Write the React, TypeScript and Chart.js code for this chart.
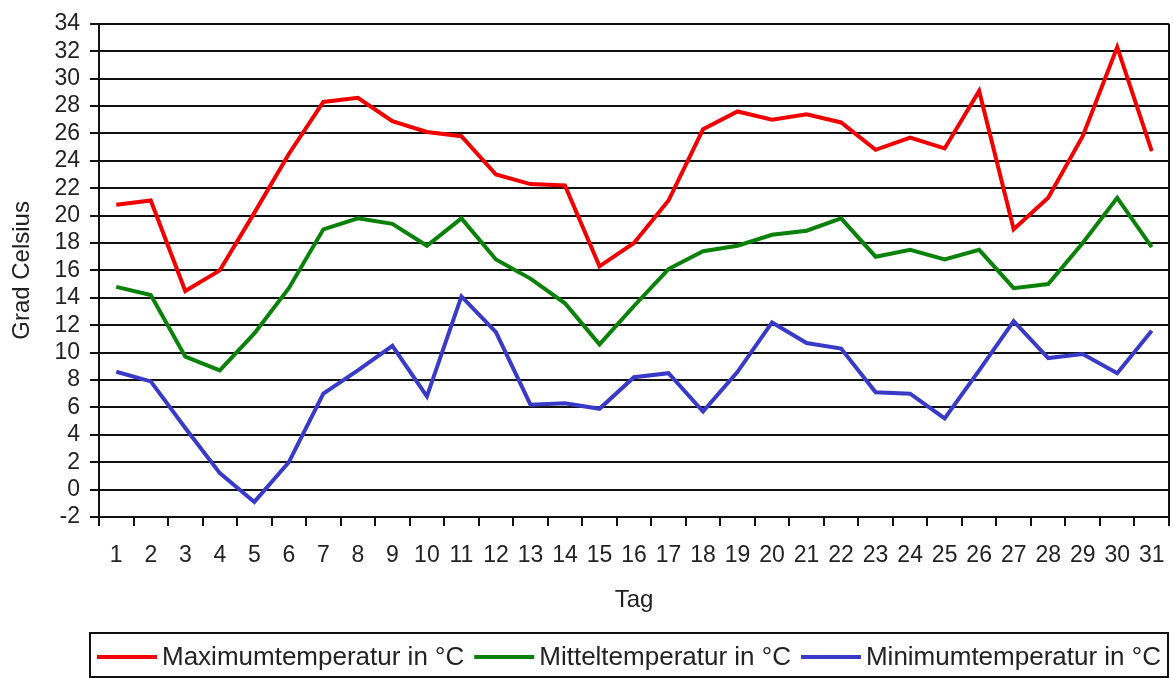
import React, { useEffect, useRef } from "react";
import { Chart, registerables } from "chart.js";

Chart.register(...registerables);

const days = Array.from({ length: 31 }, (_, i) => String(i + 1));
const maxTemp = [20.8, 21.1, 14.5, 16.0, 20.2, 24.5, 28.3, 28.6, 26.9, 26.1, 25.8, 23.0, 22.3, 22.2, 16.3, 18.0, 21.1, 26.3, 27.6, 27.0, 27.4, 26.8, 24.8, 25.7, 24.9, 29.1, 19.0, 21.3, 25.8, 32.3, 24.7];
const meanTemp = [14.8, 14.2, 9.7, 8.7, 11.4, 14.7, 19.0, 19.8, 19.4, 17.8, 19.8, 16.8, 15.4, 13.6, 10.6, 13.4, 16.1, 17.4, 17.8, 18.6, 18.9, 19.8, 17.0, 17.5, 16.8, 17.5, 14.7, 15.0, 18.0, 21.3, 17.7];
const minTemp = [8.6, 7.9, 4.5, 1.2, -0.9, 2.0, 7.0, 8.7, 10.5, 6.8, 14.1, 11.5, 6.2, 6.3, 5.9, 8.2, 8.5, 5.7, 8.6, 12.2, 10.7, 10.3, 7.1, 7.0, 5.2, 8.7, 12.3, 9.6, 9.9, 8.5, 11.6];
const seriesLabels = ["Maximumtemperatur in °C", "Mitteltemperatur in °C", "Minimumtemperatur in °C"];
const seriesColors = ["#f20000", "#0a820a", "#3a3ac8"];

const FONT = "'Liberation Sans', Arial, sans-serif";

const framePlugin = {
  id: "frameAndLegend",
  afterDraw(chart: any) {
    const { ctx, chartArea } = chart;
    ctx.save();
    ctx.strokeStyle = "#111";
    ctx.lineWidth = 2;
    ctx.beginPath();
    ctx.moveTo(chartArea.right, chartArea.top);
    ctx.lineTo(chartArea.right, chartArea.bottom);
    ctx.stroke();

    const boxLeft = 90;
    const boxTop = 633;
    const boxRight = 1168;
    const boxBottom = 677;
    ctx.strokeStyle = "#111";
    ctx.lineWidth = 2;
    ctx.strokeRect(boxLeft, boxTop, boxRight - boxLeft, boxBottom - boxTop);

    ctx.font = `26px ${FONT}`;
    ctx.textBaseline = "middle";
    ctx.textAlign = "left";
    const cy = 657;
    let x = boxLeft + 7;
    chart.data.datasets.forEach((ds: any) => {
      ctx.strokeStyle = ds.borderColor;
      ctx.lineWidth = 4;
      ctx.beginPath();
      ctx.moveTo(x, cy);
      ctx.lineTo(x + 60, cy);
      ctx.stroke();
      x += 65;
      ctx.fillStyle = "#222";
      ctx.fillText(ds.label, x, cy + 1);
      x += ctx.measureText(ds.label).width + 10;
    });
    ctx.restore();
  },
};

export default function App() {
  const ref = useRef<HTMLCanvasElement | null>(null);
  useEffect(() => {
    if (!ref.current) return;
    const chart = new Chart(ref.current, {
      type: "line",
      data: {
        labels: days,
        datasets: [maxTemp, meanTemp, minTemp].map((d, i) => ({
          label: seriesLabels[i],
          data: d,
          borderColor: seriesColors[i],
          backgroundColor: seriesColors[i],
          borderWidth: 4,
          pointRadius: 0,
          tension: 0,
          fill: false,
        })),
      },
      options: {
        animation: false,
        responsive: false,
        maintainAspectRatio: false,
        layout: { padding: { top: 23, right: 4, bottom: 53, left: 0 } },
        plugins: { legend: { display: false }, tooltip: { enabled: false } },
        scales: {
          x: {
            offset: true,
            grid: {
              offset: true,
              drawOnChartArea: false,
              drawTicks: true,
              tickLength: 9,
              color: "#111",
              lineWidth: 2,
            },
            border: { display: true, color: "#111", width: 2 },
            ticks: {
              autoSkip: false,
              maxRotation: 0,
              minRotation: 0,
              padding: 16,
              color: "#222",
              font: { family: FONT, size: 23 },
            },
            title: {
              display: true,
              text: "Tag",
              color: "#222",
              font: { family: FONT, size: 24 },
              padding: { top: 0, bottom: 10 },
            },
            afterFit(scale: any) {
              scale.height = 108;
              scale.paddingRight = 0;
            },
          },
          y: {
            min: -2,
            max: 34,
            grid: {
              color: "#111",
              lineWidth: 2,
              drawTicks: true,
              tickLength: 9,
            },
            border: { display: true, color: "#111", width: 2 },
            ticks: {
              stepSize: 2,
              autoSkip: false,
              padding: 10,
              color: "#222",
              font: { family: FONT, size: 23 },
            },
            title: {
              display: true,
              text: "Grad Celsius",
              color: "#222",
              font: { family: FONT, size: 24 },
              padding: { top: 8, bottom: 0 },
            },
            afterFit(scale: any) {
              scale.width = 99;
            },
          },
        },
      },
      plugins: [framePlugin],
    });
    return () => chart.destroy();
  }, []);
  return (
    <div style={{ position: "fixed", left: 0, top: 0, width: 1173, height: 678, background: "#fff" }}>
      <canvas ref={ref} width={1173} height={678} style={{ width: 1173, height: 678 }} />
    </div>
  );
}
